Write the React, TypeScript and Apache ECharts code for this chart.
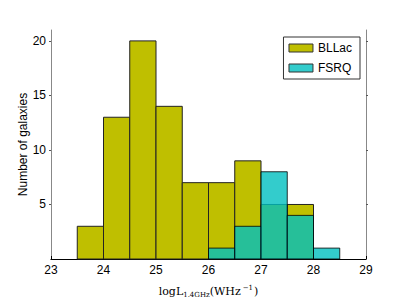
import React, { useEffect, useRef } from "react";
import * as echarts from "echarts";

const binStarts = [23.5, 24.0, 24.5, 25.0, 25.5, 26.0, 26.5, 27.0, 27.5, 28.0];
const binWidth = 0.5;
const bllacCounts = [3, 13, 20, 14, 7, 7, 9, 5, 5, 0];
const fsrqCounts = [0, 0, 0, 0, 0, 1, 3, 8, 4, 1];
const xTicks = [23, 24, 25, 26, 27, 28, 29];
const yTicks = [5, 10, 15, 20];

const makeData = (counts: number[]) =>
  binStarts
    .map((s, i) => [s, s + binWidth, counts[i]])
    .filter((d) => d[2] > 0);

const renderRect = (params: any, api: any) => {
  const x0 = api.value(0);
  const x1 = api.value(1);
  const h = api.value(2);
  const p0 = api.coord([x0, h]);
  const p1 = api.coord([x1, 0]);
  return {
    type: "rect",
    shape: { x: p0[0], y: p0[1], width: p1[0] - p0[0], height: p1[1] - p0[1] },
    style: api.style(),
  };
};

export default function App() {
  const ref = useRef<HTMLDivElement>(null);
  useEffect(() => {
    if (!ref.current) return;
    const chart = echarts.init(ref.current, undefined, { renderer: "svg" });
    const font = "Liberation Sans, Arial, sans-serif";
    chart.setOption({
      animation: false,
      grid: { left: 51, right: 41, top: 30, bottom: 46, containLabel: false },
      legend: {
        right: 47,
        top: 37,
        orient: "vertical",
        itemWidth: 24,
        itemHeight: 8,
        itemGap: 8,
        padding: [5, 8, 5, 5],
        borderColor: "#333",
        borderWidth: 1,
        backgroundColor: "#fff",
        textStyle: { fontFamily: font, fontSize: 12, color: "#000" },
        data: [
          { name: "BLLac", icon: "rect", itemStyle: { color: "#bfbf00", borderColor: "#333", borderWidth: 1 } },
          { name: "FSRQ", icon: "rect", itemStyle: { color: "rgba(0,191,191,0.8)", borderColor: "#333", borderWidth: 1 } },
        ],
      },
      xAxis: [
        {
          type: "value",
          min: 23,
          max: 29,
          interval: 1,
          position: "bottom",
          axisLine: { show: true, lineStyle: { color: "#888", width: 1 } },
          axisTick: { show: false },
          splitLine: { show: false },
          axisLabel: {
            fontFamily: font,
            fontSize: 12,
            color: "#000",
            margin: 5,
            formatter: (v: number) => (xTicks.includes(v) ? String(v) : ""),
          },
          name: "{a|logL}{s|1.4GHz}{a|(WHz}{p|−1}{a|)}",
          nameLocation: "middle",
          nameGap: 25,
          nameMoveOverlap: false,
          nameTextStyle: {
            rich: {
              a: { fontFamily: "DejaVu Serif, Liberation Serif, serif", fontSize: 11, color: "#000" },
              s: { fontFamily: "DejaVu Serif, Liberation Serif, serif", fontSize: 7, color: "#000", padding: [6, 0, 0, 0] },
              p: { fontFamily: "DejaVu Serif, Liberation Serif, serif", fontSize: 7, color: "#000", padding: [0, 1, 8, 2] },
            },
          },
        },
        {
          type: "value",
          min: 23,
          max: 29,
          interval: 1,
          position: "top",
          axisLine: { show: true, lineStyle: { color: "#000", width: 1 } },
          axisTick: { show: true, length: 3, inside: false, lineStyle: { color: "#000" } },
          axisLabel: { show: false },
          splitLine: { show: false },
        },
      ],
      yAxis: [
        {
          type: "value",
          min: 0,
          max: 21,
          position: "left",
          axisLine: { show: true, lineStyle: { color: "#888", width: 1 } },
          axisTick: { show: true, length: 2, lineStyle: { color: "#555" }, customValues: yTicks },
          axisLabel: { fontFamily: font, fontSize: 12, color: "#000", margin: 5, customValues: yTicks },
          splitLine: { show: false },
          name: "Number of galaxies",
          nameLocation: "middle",
          nameGap: 22,
          nameMoveOverlap: false,
          nameTextStyle: { fontFamily: font, fontSize: 12, color: "#000" },
        },
        {
          type: "value",
          min: 0,
          max: 21,
          position: "right",
          axisLine: { show: true, lineStyle: { color: "#888", width: 1 } },
          axisTick: { show: true, length: 2, lineStyle: { color: "#555" }, customValues: yTicks },
          axisLabel: { show: false },
          splitLine: { show: false },
        },
      ],
      series: [
        {
          name: "BLLac",
          type: "custom",
          xAxisIndex: 0,
          yAxisIndex: 0,
          renderItem: renderRect,
          itemStyle: { color: "#bfbf00", borderColor: "#222", borderWidth: 1 },
          data: makeData(bllacCounts),
          encode: { x: [0, 1], y: 2 },
          z: 2,
        },
        {
          name: "FSRQ",
          type: "custom",
          xAxisIndex: 0,
          yAxisIndex: 0,
          renderItem: renderRect,
          itemStyle: { color: "rgba(0,191,191,0.8)", borderColor: "rgba(0,0,0,0.8)", borderWidth: 1 },
          data: makeData(fsrqCounts),
          encode: { x: [0, 1], y: 2 },
          z: 3,
        },
      ],
    });
    return () => chart.dispose();
  }, []);
  return <div ref={ref} style={{ width: 407, height: 305, position: "absolute", left: 0, top: 0 }} />;
}
